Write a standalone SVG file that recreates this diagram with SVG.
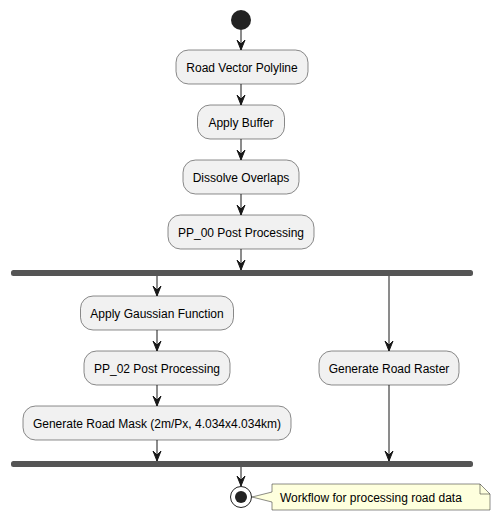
<svg xmlns="http://www.w3.org/2000/svg" width="501" height="522" viewBox="0 0 501 522">
<defs>
<style>
.node rect{fill:#F1F1F1;stroke:#181818;stroke-width:0.5}
text{font-family:"Liberation Sans",Arial,sans-serif;font-size:12px;fill:#000000}
.node text{text-anchor:middle}
.bar{fill:#555555}
.conn line{stroke:#181818;stroke-width:1}
.conn polygon{fill:#181818;stroke:#181818;stroke-width:1}
</style>
</defs>
<rect width="501" height="522" fill="#FFFFFF"/>
<g id="start"><circle cx="241" cy="20" r="10" fill="#222222"/></g>
<g id="n1" class="node"><rect x="176" y="50" width="132" height="34" rx="12.5"/><text x="242" y="71.5">Road Vector Polyline</text></g>
<g id="n2" class="node"><rect x="197.5" y="105" width="87" height="34" rx="12.5"/><text x="241" y="126.5">Apply Buffer</text></g>
<g id="n3" class="node"><rect x="183" y="160" width="116" height="34" rx="12.5"/><text x="241" y="181.5">Dissolve Overlaps</text></g>
<g id="n4" class="node"><rect x="168" y="215" width="146" height="34" rx="12.5"/><text x="241" y="236.5">PP_00 Post Processing</text></g>
<g id="fork"><rect class="bar" x="11" y="270" width="462" height="6" rx="2.5"/></g>
<g id="n5" class="node"><rect x="80.5" y="296" width="153" height="34" rx="12.5"/><text x="157" y="317.5">Apply Gaussian Function</text></g>
<g id="n6" class="node"><rect x="84" y="351" width="146" height="34" rx="12.5"/><text x="157" y="372.5">PP_02 Post Processing</text></g>
<g id="n7" class="node"><rect x="23" y="406" width="268" height="34" rx="12.5"/><text x="157" y="427.5">Generate Road Mask (2m/Px, 4.034x4.034km)</text></g>
<g id="n8" class="node"><rect x="319" y="351" width="140" height="34" rx="12.5"/><text x="389" y="372.5">Generate Road Raster</text></g>
<g id="join"><rect class="bar" x="11" y="461" width="462" height="6" rx="2.5"/></g>
<g id="end"><circle cx="241" cy="497" r="10.5" fill="none" stroke="#222222" stroke-width="1"/><circle cx="241" cy="497" r="6" fill="#222222"/></g>
<g id="note">
<path d="M272,484 L272,492 L252,497 L272,502 L272,510 L490,510 L490,494 L480,484 Z" fill="#FEFFDD" stroke="#181818" stroke-width="0.5"/>
<path d="M480,484 L480,494 L490,494" fill="none" stroke="#181818" stroke-width="0.5"/>
<text x="280" y="501.5">Workflow for processing road data</text>
</g>
<g id="connectors" class="conn">
<line x1="241" y1="30" x2="241" y2="50"/><polygon points="237,40 241,50 245,40 241,44"/>
<line x1="241" y1="84" x2="241" y2="105"/><polygon points="237,95 241,105 245,95 241,99"/>
<line x1="241" y1="139" x2="241" y2="160"/><polygon points="237,150 241,160 245,150 241,154"/>
<line x1="241" y1="194" x2="241" y2="215"/><polygon points="237,205 241,215 245,205 241,209"/>
<line x1="241" y1="249" x2="241" y2="270"/><polygon points="237,260 241,270 245,260 241,264"/>
<line x1="157" y1="276" x2="157" y2="296"/><polygon points="153,286 157,296 161,286 157,290"/>
<line x1="157" y1="330" x2="157" y2="351"/><polygon points="153,341 157,351 161,341 157,345"/>
<line x1="157" y1="385" x2="157" y2="406"/><polygon points="153,396 157,406 161,396 157,400"/>
<line x1="157" y1="440" x2="157" y2="461"/><polygon points="153,451 157,461 161,451 157,455"/>
<line x1="389" y1="276" x2="389" y2="351"/><polygon points="385,341 389,351 393,341 389,345"/>
<line x1="389" y1="385" x2="389" y2="461"/><polygon points="385,451 389,461 393,451 389,455"/>
<line x1="241" y1="467" x2="241" y2="486"/><polygon points="237,476 241,486 245,476 241,480"/>
</g>
</svg>
